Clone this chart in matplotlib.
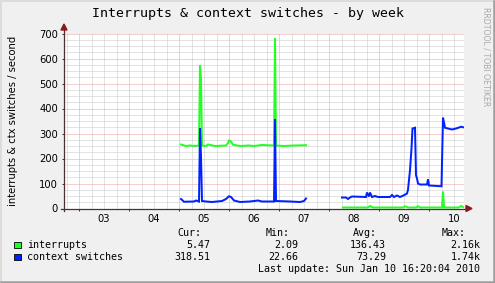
import numpy as np
import matplotlib
matplotlib.use("Agg")
import matplotlib.pyplot as plt
from matplotlib.patches import Polygon, Rectangle

# ---------------- data (time in days of Jan 2010) ----------------
title = "Interrupts & context switches - by week"
ylabel = "interrupts & ctx switches / second"
day_labels = ["03", "04", "05", "06", "07", "08", "09", "10"]
day_label_pos = [3.5, 4.5, 5.5, 6.5, 7.5, 8.5, 9.5, 10.5]
y_ticks = [0, 100, 200, 300, 400, 500, 600, 700]

irq_t1 = [5.04, 5.14, 5.22, 5.32, 5.40, 5.42, 5.44, 5.46, 5.54, 5.58, 5.72, 5.94, 5.98, 6.00, 6.04, 6.08,
          6.22, 6.40, 6.50, 6.66, 6.90, 6.92, 6.94, 7.10, 7.30, 7.54]
irq_v1 = [256, 250, 252, 250, 252, 573, 516, 252, 250, 256, 250, 252, 262, 272, 268, 255,
          250, 252, 250, 254, 252, 680, 252, 250, 252, 253]
ctx_t1 = [5.04, 5.10, 5.30, 5.34, 5.40, 5.42, 5.44, 5.46, 5.54, 5.66, 5.86, 5.94, 6.00, 6.04, 6.10,
          6.22, 6.42, 6.58, 6.66, 6.90, 6.92, 6.94, 7.22, 7.42, 7.50, 7.54]
ctx_v1 = [38, 27, 28, 32, 28, 322, 205, 30, 28, 26, 30, 38, 49, 46, 32,
          26, 28, 32, 28, 28, 357, 30, 28, 26, 30, 40]

irq_t2 = [8.28, 8.78, 8.82, 8.88, 9.48, 9.52, 9.58, 9.74, 9.78, 9.82, 10.26, 10.28, 10.30, 10.60, 10.64, 10.68]
irq_v2 = [4, 4, 10, 4, 4, 9, 4, 4, 9, 4, 4, 68, 4, 4, 10, 6]
ctx_t2 = [8.26, 8.34, 8.38, 8.42, 8.46, 8.74, 8.76, 8.80, 8.82, 8.86, 8.92, 8.98, 9.22, 9.26, 9.30,
          9.36, 9.42, 9.50, 9.56, 9.58, 9.62, 9.65, 9.67, 9.72, 9.74, 9.76, 9.78, 9.82, 9.96, 9.98,
          10.00, 10.25, 10.28, 10.32, 10.38, 10.46, 10.54, 10.60, 10.64, 10.68]
ctx_v2 = [44, 44, 38, 44, 48, 46, 64, 48, 64, 46, 50, 46, 46, 54, 46,
          52, 46, 53, 60, 75, 153, 240, 320, 323, 133, 120, 100, 96, 96, 116,
          92, 89, 364, 323, 320, 316, 320, 324, 327, 325]

legend_names = ["interrupts", "context switches"]
legend_colors = ["#22FF22", "#0022FF"]
cur_vals = ["5.47", "318.51"]
min_vals = ["2.09", "22.66"]
avg_vals = ["136.43", "73.29"]
max_vals = ["2.16k", "1.74k"]
last_update = "Last update: Sun Jan 10 16:20:04 2010"

# ---------------- figure ----------------
W, H = 495, 283
fig = plt.figure(figsize=(W / 100, H / 100), dpi=100, facecolor="#F0F0F0")
ax = fig.add_axes([64 / W, (H - 208.5) / H, 400 / W, 175 / H])
ax.set_facecolor("white")
xmin, xmax = 2.70, 10.70
ax.set_xlim(xmin, xmax)
ax.set_ylim(0, 700)
for s in ax.spines.values():
    s.set_visible(False)

axis_col = "#4A3030"
minor_col = "#C8C8C8"
major_col = "#EDA0A0"
dot = (0, (1, 1))
lw1 = 0.72

# grid
for k in range(int(np.ceil(xmin * 4)), int(np.floor(xmax * 4)) + 1):
    xv = k / 4
    if k % 4 == 0:
        ax.axvline(xv, color=major_col, lw=lw1, ls=dot, zorder=1)
    else:
        ax.axvline(xv, color=minor_col, lw=lw1, ls=dot, zorder=1)
for yv in range(25, 701, 25):
    if yv % 100 == 0:
        ax.axhline(yv, color=major_col, lw=lw1, ls=dot, zorder=1)
    else:
        ax.axhline(yv, color=minor_col, lw=lw1, ls=dot, zorder=1)

# data
lw = 1.44
ax.plot(irq_t1, irq_v1, color=legend_colors[0], lw=lw, zorder=3, solid_joinstyle="miter")
ax.plot(irq_t2, irq_v2, color=legend_colors[0], lw=lw, zorder=3, solid_joinstyle="miter")
ax.plot(ctx_t1, ctx_v1, color=legend_colors[1], lw=lw, zorder=4, solid_joinstyle="miter")
ax.plot(ctx_t2, ctx_v2, color=legend_colors[1], lw=lw, zorder=4, solid_joinstyle="miter")

# ticks
tickfont = dict(family="DejaVu Sans", size=7.2)
ax.set_yticks(y_ticks)
ax.set_yticklabels([str(v) for v in y_ticks], **tickfont)
ax.set_xticks(day_label_pos)
ax.set_xticklabels(day_labels, **tickfont)
ax.set_xticks(np.arange(3, 11), minor=True)
ax.tick_params(axis="x", which="major", length=0, pad=4.0, colors="black")
ax.tick_params(axis="x", which="minor", length=1.5, width=0.72, color=axis_col)
ax.tick_params(axis="y", which="major", length=1.5, width=0.72, color=axis_col, pad=2.8, labelcolor="black")

# ---------------- overlay in pixel coords ----------------
ov = fig.add_axes([0, 0, 1, 1])
ov.set_xlim(0, W)
ov.set_ylim(H, 0)
ov.axis("off")
ov.patch.set_visible(False)

# frame bevel
ov.plot([1, W - 1], [1, 1], color="#DCDCDC", lw=1.4)
ov.plot([1, 1], [1, H - 1], color="#DCDCDC", lw=1.4)
ov.plot([1, W - 1], [H - 1.5, H - 1.5], color="#9E9E9E", lw=1.8)
ov.plot([W - 1.5, W - 1.5], [1, H - 1], color="#9E9E9E", lw=1.8)

# axes lines and arrows
ov.plot([61, 467], [208.5, 208.5], color=axis_col, lw=0.9, zorder=5)
ov.plot([64, 64], [211, 30], color=axis_col, lw=0.9, zorder=5)
ov.add_patch(Polygon([[466, 205.5], [472, 208.5], [466, 211.5]], closed=True, color="#8B1A1A", zorder=6))
ov.add_patch(Polygon([[61, 30], [64, 24], [67, 30]], closed=True, color="#8B1A1A", zorder=6))

mono = dict(family="DejaVu Sans Mono")
ov.text(W / 2, 17.5, title, ha="center", va="baseline", fontsize=9.5, color="black", **mono)
ov.text(13, 120.5, ylabel, rotation=90, ha="center", va="center", fontsize=7.2,
        family="DejaVu Sans", color="black")
ov.text(486, 57, "RRDTOOL / TOBI OETIKER", rotation=270, ha="center", va="center",
        fontsize=5.6, family="DejaVu Sans", color="#A8A8A8")

fs = 7.2
base = [236.5, 248.5, 260.5, 272.5]
ov.text(201.7, base[0], "Cur:", ha="right", va="baseline", fontsize=fs, **mono)
ov.text(290, base[0], "Min:", ha="right", va="baseline", fontsize=fs, **mono)
ov.text(377, base[0], "Avg:", ha="right", va="baseline", fontsize=fs, **mono)
ov.text(466, base[0], "Max:", ha="right", va="baseline", fontsize=fs, **mono)
for i in range(2):
    b = base[i + 1]
    ov.add_patch(Rectangle((14, b - 7), 6.5, 6.5, facecolor=legend_colors[i], edgecolor="black",
                           lw=0.6, zorder=6))
    ov.text(27, b, legend_names[i], ha="left", va="baseline", fontsize=fs, **mono)
    ov.text(210, b, cur_vals[i], ha="right", va="baseline", fontsize=fs, **mono)
    ov.text(298, b, min_vals[i], ha="right", va="baseline", fontsize=fs, **mono)
    ov.text(386, b, avg_vals[i], ha="right", va="baseline", fontsize=fs, **mono)
    ov.text(480.5, b, max_vals[i], ha="right", va="baseline", fontsize=fs, **mono)
ov.text(480.5, base[3], last_update, ha="right", va="baseline", fontsize=fs, **mono)

fig.savefig("out.png", dpi=100, facecolor=fig.get_facecolor())
